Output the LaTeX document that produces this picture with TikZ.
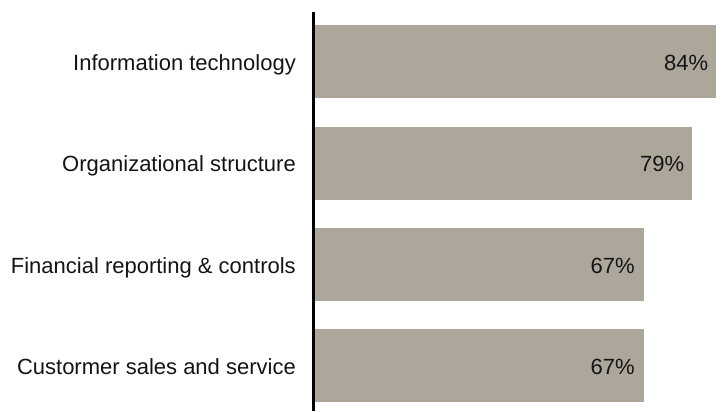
\documentclass[tikz,border=0pt]{standalone}
\usepackage{fontspec}
\setmainfont{Liberation Sans}
\definecolor{barcol}{RGB}{173,166,155}
\definecolor{txtcol}{RGB}{20,20,20}
\begin{document}
\begin{tikzpicture}[x=1bp,y=-1bp,
  bar/.style={fill=barcol, draw=none, inner sep=0pt, minimum height=73bp, anchor=west},
  lab/.style={text=txtcol, inner sep=0pt, anchor=base east, font=\fontsize{22bp}{26bp}\selectfont},
  val/.style={text=txtcol, inner sep=0pt, anchor=base east, font=\fontsize{22bp}{26bp}\selectfont}]
\useasboundingbox (0,0) rectangle (724,411);
\node[bar, minimum width=401bp] (b1) at (315,61.5) {};
\node[bar, minimum width=377bp] (b2) at (315,163) {};
\node[bar, minimum width=328.5bp] (b3) at (315,264.5) {};
\node[bar, minimum width=328.5bp] (b4) at (315,365.5) {};
\coordinate (axtop) at (313.5,11.5);
\coordinate (axbot) at (313.5,411);
\draw[line width=2.3bp, black] (axtop) -- (axbot);
\node[lab] (l1) at (296,70) {Information technology};
\node[lab] (l2) at (296,171.5) {Organizational structure};
\node[lab] (l3) at (296,273) {Financial reporting \& controls};
\node[lab] (l4) at (296,374) {Custormer sales and service};
\node[val] (v1) at ([xshift=-8bp,yshift=-8.5bp]b1.east) {84\%};
\node[val] (v2) at ([xshift=-8bp,yshift=-8.5bp]b2.east) {79\%};
\node[val] (v3) at ([xshift=-9bp,yshift=-8.5bp]b3.east) {67\%};
\node[val] (v4) at ([xshift=-9bp,yshift=-8.5bp]b4.east) {67\%};
\end{tikzpicture}
\end{document}
